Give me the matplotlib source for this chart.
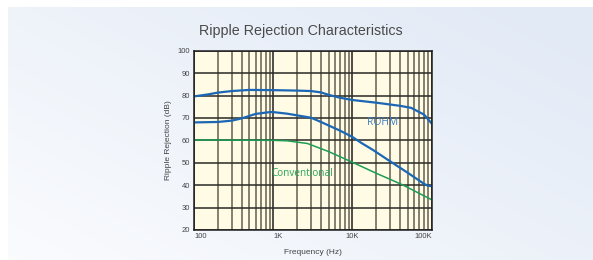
import numpy as np
import matplotlib.pyplot as plt
from matplotlib.ticker import FixedLocator, NullFormatter

# data
rohm_hi_f = [100, 150, 200, 300, 500, 1000, 2000, 3000, 4000, 5000, 7000, 10000, 20000, 40000, 55000, 80000, 100000]
rohm_hi_db = [79.6, 80.5, 81.3, 82.0, 82.5, 82.4, 82.2, 82.0, 81.4, 80.3, 79.0, 78.0, 76.8, 75.4, 74.5, 71.5, 67.5]

rohm_lo_f = [100, 200, 300, 400, 600, 900, 1000, 1500, 2200, 3000, 4000, 7000, 10000, 13000, 18000, 28000, 50000, 80000, 90000, 100000]
rohm_lo_db = [68.0, 68.2, 68.8, 69.8, 71.8, 72.6, 72.6, 71.9, 70.9, 70.1, 68.2, 64.3, 61.5, 58.8, 55.8, 51.3, 45.5, 40.6, 39.7, 39.6]

conv_f = [100, 1000, 1500, 2700, 5000, 10000, 20000, 42000, 100000]
conv_db = [60.2, 60.0, 59.8, 58.6, 55.0, 50.2, 45.3, 40.3, 33.5]

x_ticks = [100, 1000, 10000, 100000]
x_labels = ['100', '1K', '10K', '100K']
y_ticks = [20, 30, 40, 50, 60, 70, 80, 90, 100]

W, H = 593, 260
fig = plt.figure(figsize=(W / 100, H / 100), dpi=100)
fig.patch.set_facecolor('white')

# light blue gradient panel behind everything
bg = fig.add_axes([8 / W, 0, 1 - 8 / W, 1 - 7 / H], zorder=-10)
gx, gy = np.meshgrid(np.linspace(0, 1, 200), np.linspace(0, 1, 100))
t = np.clip(0.6 * gx + 0.5 * gy, 0, 1)
c0 = np.array([0.98, 0.985, 0.995])
c1 = np.array([0.89, 0.92, 0.965])
img = c0 + (c1 - c0) * t[..., None]
bg.imshow(img, origin='lower', aspect='auto', extent=(0, 1, 0, 1))
bg.axis('off')

title_font = ['Liberation Sans', 'DejaVu Sans']
fig.text(301 / W, 1 - 31 / H, 'Ripple Rejection Characteristics', ha='center', va='center',
         fontsize=10.3, color='#4a4a4a', family=title_font)

left, right, top, bottom = 194, 431.7, 50.7, 230
ax = fig.add_axes([left / W, 1 - bottom / H, (right - left) / W, (bottom - top) / H])
ax.set_facecolor('#fffbe4')
ax.set_xscale('log')
ax.set_xlim(100, 100000)
ax.set_ylim(20, 100)

# grid
minor = [m * 10 ** d for d in range(2, 5) for m in range(2, 10)]
for f in minor:
    ax.axvline(f, color='#6f6b5c', lw=1.2, zorder=1)
for f in x_ticks:
    ax.axvline(f, color='#1e1e1e', lw=1.1, zorder=1)
for y in y_ticks:
    ax.axhline(y, color='#2a2a26', lw=1.1, zorder=1)

ax.plot(rohm_hi_f, rohm_hi_db, color='#1c67b5', lw=1.6, zorder=3)
ax.plot(rohm_lo_f, rohm_lo_db, color='#1c67b5', lw=1.6, zorder=3)
ax.plot(conv_f, conv_db, color='#1c9d55', lw=1.1, zorder=3)

ax.text(24000, 68.0, 'ROHM', color='#3b7cc0', fontsize=7.4, ha='center', va='center',
        family=['Open Sans', 'DejaVu Sans'], zorder=4)
ax.text(2350, 45.3, 'Conventional', color='#2aa45a', fontsize=7.2, ha='center', va='center',
        family=['Open Sans', 'DejaVu Sans'], zorder=4)

for s in ax.spines.values():
    s.set_color('#1e1e1e')
    s.set_linewidth(1.1)
    s.set_zorder(5)

ax.xaxis.set_major_locator(FixedLocator(x_ticks))
ax.xaxis.set_minor_locator(FixedLocator(minor))
ax.xaxis.set_minor_formatter(NullFormatter())
ax.set_xticklabels(x_labels)
for lab, ha in zip(ax.get_xticklabels(), ['left', 'left', 'center', 'right']):
    lab.set_ha(ha)
ax.set_yticks(y_ticks)
ax.tick_params(axis='both', which='both', length=0, labelsize=5.5, labelcolor='#444444', pad=3)
ax.tick_params(axis='x', pad=2)
for lab in ax.get_xticklabels() + ax.get_yticklabels():
    lab.set_family(title_font)

ax.set_xlabel('Frequency (Hz)', fontsize=6, color='#444444', family=title_font, labelpad=7)
ax.set_ylabel('Ripple Rejection (dB)', fontsize=6, color='#444444', family=title_font, labelpad=4)

fig.savefig('out.png', dpi=100)
